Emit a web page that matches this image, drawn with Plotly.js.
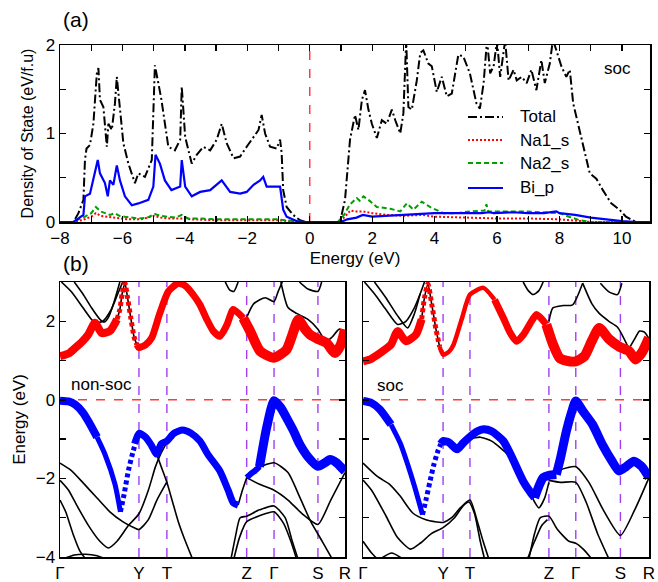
<!DOCTYPE html>
<html><head><meta charset="utf-8">
<script src="https://cdn.plot.ly/plotly-3.0.1.min.js"></script>
<style>html,body{margin:0;padding:0;background:#fff}#chart{width:658px;height:582px}</style>
</head><body><div id="chart"></div>
<script>
// ---------------- (a) DOS data ----------------
const totalE = [-8,-7.57,-7.41,-7.25,-7.2,-7.15,-7.04,-6.93,-6.82,-6.77,-6.72,-6.61,-6.5,-6.45,-6.34,-6.24,-6.18,-6.08,-5.97,-5.81,-5.6,-5.49,-5.28,-5.06,-4.96,-4.85,-4.75,-4.53,-4.32,-4.15,-4.1,-3.99,-3.78,-3.62,-3.41,-3.19,-2.98,-2.82,-2.66,-2.44,-2.23,-2.02,-1.8,-1.64,-1.54,-1.43,-1.27,-1.06,-0.95,-0.9,-0.85,-0.74,-0.53,-0.31,-0.15,0.97,1.13,1.29,1.45,1.56,1.67,1.77,1.88,1.99,2.15,2.31,2.47,2.63,2.74,2.9,3.0,3.09,3.16,3.27,3.43,3.54,3.64,3.8,3.91,4.07,4.23,4.39,4.55,4.76,4.92,5.13,5.34,5.45,5.57,5.68,5.78,5.89,6.0,6.1,6.26,6.37,6.53,6.63,6.79,6.95,7.1,7.26,7.42,7.53,7.69,7.79,7.9,8.06,8.22,8.33,8.44,8.65,8.81,8.97,9.18,9.39,9.66,9.92,10.13,10.45,10.9];
const totalD = [0,0,0.1,0.25,0.7,0.83,0.87,1.11,1.68,1.74,1.38,1.30,0.85,1.11,1.04,1.34,1.64,1.30,0.89,0.66,0.44,0.55,0.51,0.70,1.77,1.57,1.38,0.85,0.81,0.93,1.53,0.96,0.66,0.76,0.85,0.81,0.93,1.11,0.89,0.72,0.74,0.85,0.96,1.04,1.21,1.00,0.85,0.83,0.93,0.78,0.36,0.17,0.08,0.02,0,0,0.25,0.93,1.21,1.04,1.38,1.49,1.27,1.11,0.95,1.15,1.11,1.27,1.15,1.0,1.23,2.05,1.30,1.27,1.60,1.91,1.94,1.79,1.76,1.47,1.64,1.42,1.45,1.89,1.87,1.68,1.34,1.28,1.57,2.06,1.68,1.76,2.05,1.64,2.05,1.60,1.72,1.60,1.64,1.57,1.72,1.49,1.83,1.57,1.79,2.06,1.94,1.76,1.64,1.72,1.34,1.04,0.78,0.55,0.49,0.36,0.21,0.14,0.06,0,0];
const na1E = [-8,-7.6,-7.3,-7.0,-6.85,-6.7,-6.5,-6.3,-6.1,-5.8,-5.4,-5.0,-4.8,-4.5,-4.1,-3.8,-3.0,-2.0,-1.0,-0.7,-0.3,0.9,1.1,1.3,1.5,1.7,2.0,2.5,3.0,3.6,4.0,5.0,6.0,7.0,8.0,8.7,9.0,10.9];
const na1D = [0,0,0.02,0.06,0.1,0.07,0.06,0.05,0.04,0.03,0.03,0.07,0.05,0.04,0.04,0.03,0.02,0.02,0.02,0.01,0,0,0.05,0.13,0.12,0.12,0.1,0.08,0.07,0.08,0.06,0.05,0.04,0.04,0.03,0.01,0,0];
const na2E = [-8,-7.6,-7.4,-7.2,-7.0,-6.85,-6.7,-6.56,-6.4,-6.24,-6.1,-5.92,-5.7,-5.49,-5.2,-4.96,-4.8,-4.53,-4.3,-4.1,-3.9,-3.5,-3.0,-2.5,-2.0,-1.5,-1.0,-0.8,-0.5,-0.2,0.9,1.1,1.29,1.51,1.6,1.72,1.88,2.15,2.58,2.9,3.11,3.32,3.59,3.85,4.28,4.71,5.13,5.6,5.66,5.72,6.2,6.8,7.4,8.0,8.3,8.65,9.0,10.9];
const na2D = [0,0,0.03,0.06,0.1,0.17,0.12,0.10,0.08,0.10,0.07,0.06,0.05,0.04,0.05,0.09,0.07,0.06,0.05,0.08,0.04,0.04,0.03,0.03,0.03,0.03,0.03,0.02,0.01,0,0,0.08,0.2,0.27,0.24,0.29,0.25,0.17,0.15,0.12,0.21,0.14,0.23,0.17,0.10,0.10,0.12,0.13,0.2,0.12,0.12,0.12,0.11,0.1,0.06,0.02,0,0];
const bipE = [-8,-7.57,-7.25,-7.2,-7.04,-6.88,-6.79,-6.72,-6.56,-6.47,-6.4,-6.29,-6.18,-6.08,-5.92,-5.7,-5.49,-5.17,-5.01,-4.94,-4.8,-4.64,-4.43,-4.15,-4.1,-3.99,-3.78,-3.51,-3.19,-2.82,-2.55,-2.23,-2.02,-1.8,-1.59,-1.49,-1.38,-1.17,-0.95,-0.85,-0.74,-0.42,-0.1,1.0,1.2,1.5,1.7,2.0,2.5,3.0,3.5,4.0,4.5,5.0,5.5,5.75,5.9,6.5,7.0,7.5,7.9,8.0,8.5,9.0,9.5,10.0,10.5,10.9];
const bipD = [0,0,0.08,0.29,0.32,0.55,0.70,0.55,0.44,0.29,0.47,0.42,0.64,0.47,0.29,0.19,0.21,0.25,0.40,0.76,0.66,0.47,0.36,0.40,0.70,0.40,0.29,0.34,0.36,0.47,0.34,0.32,0.34,0.42,0.47,0.51,0.40,0.40,0.40,0.14,0.06,0.01,0,0,0.03,0.05,0.08,0.06,0.07,0.08,0.09,0.1,0.1,0.1,0.1,0.11,0.1,0.11,0.1,0.1,0.12,0.1,0.08,0.05,0.03,0.01,0,0];
const dosNames = ['Total', 'Na1_s', 'Na2_s', 'Bi_p'];

// ---------------- (b) band structure data ----------------
const kLabels = ['Γ', 'Y', 'T', 'Z', 'Γ', 'S', 'R'];
const nsTicks = [0, 0.277, 0.375, 0.655, 0.751, 0.905, 1.0];
const socTicks = [0, 0.28, 0.374, 0.65, 0.744, 0.9, 1.0];

// non-soc: Na-s (red) fat band segments
const nsRedK = [
  [0,0.03,0.053,0.08,0.099,0.123,0.146,0.175,0.2],
  [0.2,0.21,0.218,0.228,0.237,0.248,0.26,0.27],
  [0.27,0.277,0.3,0.322,0.35,0.38,0.415,0.44,0.47,0.491,0.515,0.538,0.561,0.585,0.608,0.643],
  [0.643,0.667,0.702,0.751,0.795,0.815,0.836,0.86,0.877,0.905,0.935,0.965,0.985,1.0]];
const nsRedE = [
  [1.11,1.18,1.32,1.5,1.66,1.96,1.70,1.75,2.05],
  [2.05,2.3,2.7,2.97,2.6,2.1,1.6,1.4],
  [1.4,1.33,1.4,1.58,2.2,2.76,2.97,2.9,2.65,2.42,2.05,1.75,1.62,1.9,2.3,2.08],
  [2.08,1.75,1.24,1.07,1.28,1.65,2.04,1.8,1.66,1.55,1.45,1.19,1.4,1.79]];
// non-soc: Bi-p (blue) fat band segments
const nsBlueK = [
  [0,0.03,0.053,0.08,0.099,0.13],
  [0.13,0.158,0.193,0.212],
  [0.212,0.225,0.24,0.255,0.265],
  [0.262,0.277,0.3,0.32,0.339,0.355,0.375,0.4,0.43,0.46,0.491,0.52,0.561,0.59,0.608,0.625],
  [0.655,0.67,0.685,0.7],
  [0.7,0.725,0.751,0.775,0.795,0.82,0.842,0.87,0.905,0.93,0.947,0.97,1.0]];
const nsBlueE = [
  [-0.02,-0.04,-0.12,-0.32,-0.54,-0.95],
  [-0.95,-1.39,-2.15,-2.85],
  [-2.85,-2.4,-1.8,-1.35,-1.1],
  [-1.12,-0.85,-0.95,-1.15,-1.38,-1.12,-1.05,-0.85,-0.77,-0.85,-1.05,-1.4,-1.81,-2.3,-2.62,-2.68],
  [-1.98,-1.88,-1.8,-1.7],
  [-1.7,-0.71,-0.02,-0.2,-0.46,-0.8,-1.14,-1.45,-1.69,-1.6,-1.52,-1.6,-1.82]];
// non-soc: other bands (black)
const nsBlackK = [
  [0.005,0.04,0.08,0.11,0.123,0.15,0.18,0.2,0.22],
  [0.05,0.08,0.11,0.14,0.155,0.17,0.19,0.21],
  [0.2,0.21,0.218,0.228,0.237,0.248,0.26,0.27],
  [0.58,0.595,0.61,0.625],
  [0.655,0.68,0.72,0.751,0.765,0.78],
  [0.775,0.8,0.83,0.87,0.905,0.93,0.95],
  [0.93,0.955,0.98,1.0],
  [0.84,0.87,0.905,0.918],
  [0,0.04,0.082,0.13,0.175,0.22,0.25,0.277,0.31,0.34,0.374],
  [0,0.03,0.06,0.1,0.14,0.17,0.2,0.24,0.277,0.31,0.335,0.355,0.375],
  [0.339,0.355,0.375,0.395,0.415,0.44,0.465],
  [0,0.02,0.045,0.07,0.09],
  [0.01,0.05,0.09,0.13,0.16],
  [0.625,0.64,0.655],
  [0.655,0.7,0.751,0.8,0.85,0.905,0.95,1.0],
  [0.655,0.7,0.751,0.8,0.842,0.88,0.92,0.955],
  [0.6,0.615,0.632,0.655,0.7,0.751,0.79,0.815,0.835],
  [0.61,0.63,0.655,0.7,0.751,0.785,0.81,0.83]];
const nsBlackE = [
  [3.0,2.75,2.35,2.05,1.96,2.0,2.3,2.65,3.0],
  [3.0,2.7,2.35,2.05,1.98,2.1,2.5,3.0],
  [2.05,2.3,2.7,2.97,2.6,2.1,1.6,1.4],
  [3.0,2.8,2.76,3.0],
  [2.1,2.45,2.6,2.5,2.75,3.0],
  [3.0,2.35,2.2,2.05,1.8,1.5,1.4],
  [1.45,1.6,1.8,1.7],
  [3.0,2.82,2.76,3.0],
  [-1.61,-1.8,-2.12,-2.5,-2.85,-3.1,-3.22,-3.3,-3.05,-2.55,-2.1],
  [-2.05,-2.3,-2.7,-3.2,-3.6,-3.77,-3.6,-3.2,-2.9,-2.3,-1.7,-1.35,-1.08],
  [-1.38,-1.7,-2.1,-2.6,-3.1,-3.6,-4.05],
  [-2.55,-2.85,-3.4,-3.85,-4.05],
  [-4.05,-3.95,-3.93,-3.97,-4.05],
  [-2.68,-2.3,-1.98],
  [-1.98,-2.15,-2.3,-2.55,-2.9,-3.17,-2.55,-1.85],
  [-1.98,-1.72,-1.6,-1.85,-2.49,-3.1,-3.6,-4.05],
  [-4.05,-3.5,-3.0,-2.96,-2.8,-2.7,-3.0,-3.6,-4.05],
  [-4.05,-3.5,-3.1,-2.95,-2.85,-3.15,-3.6,-4.05]];

// soc: red fat band segments
const socRedK = [
  [0,0.025,0.052,0.075,0.098,0.121,0.15,0.185,0.205],
  [0.205,0.215,0.227,0.24,0.255,0.268],
  [0.268,0.28,0.3,0.317,0.345,0.374,0.421,0.46],
  [0.46,0.491,0.515,0.537,0.56,0.585,0.607,0.641],
  [0.641,0.665,0.687,0.71,0.744,0.774,0.8,0.826,0.86,0.897,0.93,0.953,0.975,1.0]];
const socRedE = [
  [0.98,1.03,1.15,1.27,1.41,1.75,1.49,1.66,2.05],
  [2.05,2.6,2.95,2.45,1.8,1.35],
  [1.35,1.15,1.22,1.41,2.05,2.68,2.85,2.55],
  [2.55,2.08,1.7,1.49,1.65,1.95,2.17,1.92],
  [1.92,1.4,1.07,1.0,0.98,1.11,1.5,1.83,1.55,1.35,1.24,1.03,1.2,1.58]];
// soc: blue fat band segments
const socBlueK = [
  [0,0.03,0.06,0.098],
  [0.098,0.13,0.156,0.18,0.208],
  [0.208,0.22,0.235,0.248,0.262,0.272],
  [0.272,0.28,0.3,0.329,0.35,0.369,0.4,0.421,0.45,0.491,0.52,0.56,0.585,0.6],
  [0.6,0.615,0.63,0.65,0.676],
  [0.676,0.69,0.711,0.73,0.744,0.77,0.803,0.837,0.87,0.895,0.92,0.947,0.975,1.0]];
const socBlueE = [
  [-0.03,-0.08,-0.25,-0.63],
  [-0.63,-1.1,-1.64,-2.2,-2.92],
  [-2.92,-2.55,-2.05,-1.64,-1.3,-1.12],
  [-1.12,-1.05,-1.08,-1.26,-1.1,-0.97,-0.8,-0.75,-0.8,-1.05,-1.45,-2.07,-2.35,-2.49],
  [-2.49,-2.2,-1.98,-1.92,-1.9],
  [-1.9,-1.5,-0.8,-0.3,-0.03,-0.3,-0.63,-1.14,-1.55,-1.81,-1.7,-1.56,-1.7,-1.98]];
// soc: other bands (black)
const socBlackK = [
  [0.005,0.04,0.08,0.121,0.15,0.18,0.2,0.215],
  [0.04,0.08,0.12,0.156,0.18,0.2],
  [0.205,0.215,0.227,0.24,0.255,0.268],
  [0.56,0.578,0.595,0.615,0.63],
  [0.65,0.664,0.7,0.733,0.768],
  [0.768,0.8,0.826,0.86,0.89,0.93],
  [0.93,0.95,0.967,0.985,1.0],
  [0.83,0.86,0.89,0.905],
  [0,0.05,0.093,0.13,0.174,0.22,0.25,0.28,0.31,0.34,0.374,0.4,0.42,0.44],
  [0,0.03,0.08,0.12,0.166,0.2,0.24,0.28,0.32,0.35,0.37,0.39,0.41,0.425],
  [0,0.03,0.05],
  [0.06,0.1,0.14],
  [0.28,0.3,0.329,0.35,0.374,0.41,0.45,0.5,0.54,0.57,0.6,0.615,0.635,0.65],
  [0.65,0.69,0.744,0.79,0.84,0.9,0.95,1.0],
  [0.65,0.69,0.744,0.78,0.82,0.86],
  [0.58,0.6,0.62,0.65,0.68,0.72,0.744,0.77,0.8],
  [0.575,0.6,0.625,0.645]];
const socBlackE = [
  [3.0,2.7,2.3,1.92,2.0,2.35,2.7,3.0],
  [3.0,2.6,2.15,1.83,2.2,2.7],
  [2.05,2.6,2.95,2.45,1.8,1.35],
  [3.0,2.78,2.68,2.78,3.0],
  [2.0,2.34,2.4,2.42,2.97],
  [2.97,2.45,2.2,2.0,1.85,1.3],
  [1.3,1.55,1.75,1.72,1.55],
  [2.97,2.75,2.68,2.97],
  [-1.61,-1.95,-2.15,-2.45,-2.88,-3.05,-3.1,-3.12,-3.0,-2.75,-2.55,-3.1,-3.6,-4.05],
  [-2.04,-2.3,-2.95,-3.5,-3.8,-3.65,-3.4,-3.25,-3.0,-2.7,-2.6,-2.9,-3.6,-4.05],
  [-3.6,-3.9,-4.05],
  [-4.05,-3.9,-4.05],
  [-1.1,-1.15,-1.3,-1.15,-1.0,-0.95,-1.05,-1.35,-1.75,-2.15,-2.6,-2.75,-2.5,-2.1],
  [-1.95,-1.78,-1.7,-2.1,-2.8,-3.45,-2.8,-1.98],
  [-2.05,-2.1,-2.1,-2.6,-3.4,-4.05],
  [-4.05,-3.4,-3.0,-2.96,-3.3,-3.6,-3.65,-3.8,-4.05],
  [-4.05,-3.6,-3.2,-3.05]];

// ---------------- styles & build ----------------
const W = 658, H = 582;
const px = v => v / W, py = v => 1 - v / H;
const FONT = 'Liberation Sans, Arial, sans-serif';
const RED = '#ff0000', BLUE = '#0000ff', GREEN = '#00a000', PURPLE = '#a040f0', ZRED = '#ff3b3b';

const dosStyles = [
  {color:'#000', dash:'9px,3px,2px,3px', width:2},
  {color:RED, dash:'2px,2px', width:2},
  {color:GREEN, dash:'5px,3px', width:2},
  {color:BLUE, dash:'solid', width:2.2}];
const dosX = [totalE, na1E, na2E, bipE];
const dosY = [totalD, na1D, na2D, bipD];

const traces = [];
dosNames.forEach((n, i) => {
  traces.push({type:'scatter', mode:'lines', name:n, x:dosX[i], y:dosY[i], xaxis:'x', yaxis:'y',
    line:{color:dosStyles[i].color, dash:dosStyles[i].dash, width:dosStyles[i].width}, showlegend:false, hoverinfo:'skip'});
});

function addSegs(K, E, xa, ya, color, widths, dashes) {
  K.forEach((k, i) => {
    traces.push({type:'scatter', mode:'lines', x:k, y:E[i], xaxis:xa, yaxis:ya, showlegend:false, hoverinfo:'skip',
      line:{color:color, width:widths[i], dash:dashes ? dashes[i] : 'solid', shape:'spline', smoothing:0.6}});
  });
}
const ones = n => Array(n).fill(1.6);
addSegs(nsBlackK, nsBlackE, 'x2', 'y2', '#000', ones(nsBlackK.length));
addSegs(socBlackK, socBlackE, 'x3', 'y3', '#000', ones(socBlackK.length));
addSegs(nsRedK, nsRedE, 'x2', 'y2', RED, [8, 5, 7, 10], ['solid','4px,3px','solid','solid']);
addSegs(nsBlueK, nsBlueE, 'x2', 'y2', BLUE, [8, 5, 5, 7, 6, 9], ['solid','solid','4px,3px','solid','solid','solid']);
addSegs(socRedK, socRedE, 'x3', 'y3', RED, [8, 5, 4.5, 7, 10], ['solid','4px,3px','solid','solid','solid']);
addSegs(socBlueK, socBlueE, 'x3', 'y3', BLUE, [8, 5, 5, 8, 9, 9], ['solid','solid','4px,3px','solid','solid','solid']);

const shapes = [];
shapes.push({type:'line', xref:'x', yref:'y domain', x0:0, x1:0, y0:0, y1:1, layer:'below', line:{color:ZRED, dash:'dash', width:1.5}});
[['x2','y2',nsTicks],['x3','y3',socTicks]].forEach(([xa, ya, tk]) => {
  tk.slice(1, -1).forEach(k => shapes.push({type:'line', xref:xa, yref:ya + ' domain', x0:k, x1:k, y0:0, y1:1, layer:'below', line:{color:PURPLE, dash:'dash', width:1.4}}));
  shapes.push({type:'line', xref:xa + ' domain', yref:ya, x0:0, x1:1, y0:0, y1:0, layer:'below', line:{color:ZRED, dash:'dash', width:1.5}});
});

// hand-drawn legend for panel (a)
const annotations = [];
const legY = [117, 140, 163, 188];
dosNames.forEach((n, i) => {
  shapes.push({type:'line', xref:'paper', yref:'paper', x0:px(468), x1:px(503), y0:py(legY[i]), y1:py(legY[i]),
    line:{color:dosStyles[i].color, dash:dosStyles[i].dash, width:dosStyles[i].width}});
  annotations.push({xref:'paper', yref:'paper', x:px(518), y:py(legY[i]), xanchor:'left', yanchor:'middle', text:n, showarrow:false, font:{size:17, color:'#000'}});
});
const txt = (x, y, t, s, anchor) => annotations.push({xref:'paper', yref:'paper', x:px(x), y:py(y), xanchor:anchor || 'left', yanchor:'middle', text:t, showarrow:false, font:{size:s, color:'#000'}});
txt(61, 20, '(a)', 21);
txt(61, 264, '(b)', 21);
txt(602, 68, 'soc', 17);
txt(69, 384, 'non-soc', 17);
txt(375, 385, 'soc', 17);

const frame = {showline:true, linecolor:'#000', linewidth:1.5, mirror:'ticks', showgrid:false, zeroline:false, ticks:'inside', tickcolor:'#000', ticklen:6, tickwidth:1.3};
const layout = {
  width:W, height:H, margin:{l:0, r:0, t:0, b:0}, paper_bgcolor:'#fff', plot_bgcolor:'#fff',
  font:{family:FONT, size:16, color:'#000'}, showlegend:false,
  xaxis: Object.assign({}, frame, {domain:[px(60), px(650)], anchor:'y', range:[-8, 10.9], tick0:0, dtick:2,
    minor:{dtick:1, ticks:'inside', ticklen:6, tickcolor:'#000'}, tickfont:{size:17},
    title:{text:'Energy (eV)', font:{size:17}, standoff:5}}),
  yaxis: Object.assign({}, frame, {domain:[py(222), py(45)], anchor:'x', range:[0, 2], tick0:0, dtick:1,
    minor:{dtick:0.5, ticks:'inside', ticklen:6, tickcolor:'#000'}, tickfont:{size:17},
    title:{text:'Density of State (eV/f.u)', font:{size:16}, standoff:8}}),
  xaxis2: Object.assign({}, frame, {domain:[px(60), px(345)], anchor:'y2', range:[0, 1], ticks:'', tickvals:nsTicks, ticktext:kLabels,
    tickfont:{size:17}}),
  yaxis2: Object.assign({}, frame, {domain:[py(557), py(282)], anchor:'x2', range:[-4, 3], tick0:0, dtick:2,
    minor:{dtick:1, ticks:'inside', ticklen:6, tickcolor:'#000'}, tickfont:{size:17},
    title:{text:'Energy (eV)', font:{size:17}, standoff:6}}),
  xaxis3: Object.assign({}, frame, {domain:[px(363), px(649)], anchor:'y3', range:[0, 1], ticks:'', tickvals:socTicks, ticktext:kLabels,
    tickfont:{size:17}}),
  yaxis3: Object.assign({}, frame, {domain:[py(557), py(282)], anchor:'x3', range:[-4, 3], tick0:0, dtick:2, showticklabels:false,
    minor:{dtick:1, ticks:'inside', ticklen:6, tickcolor:'#000'}}),
  shapes:shapes, annotations:annotations
};
Plotly.newPlot('chart', traces, layout, {displayModeBar:false, staticPlot:true});
</script></body></html>
